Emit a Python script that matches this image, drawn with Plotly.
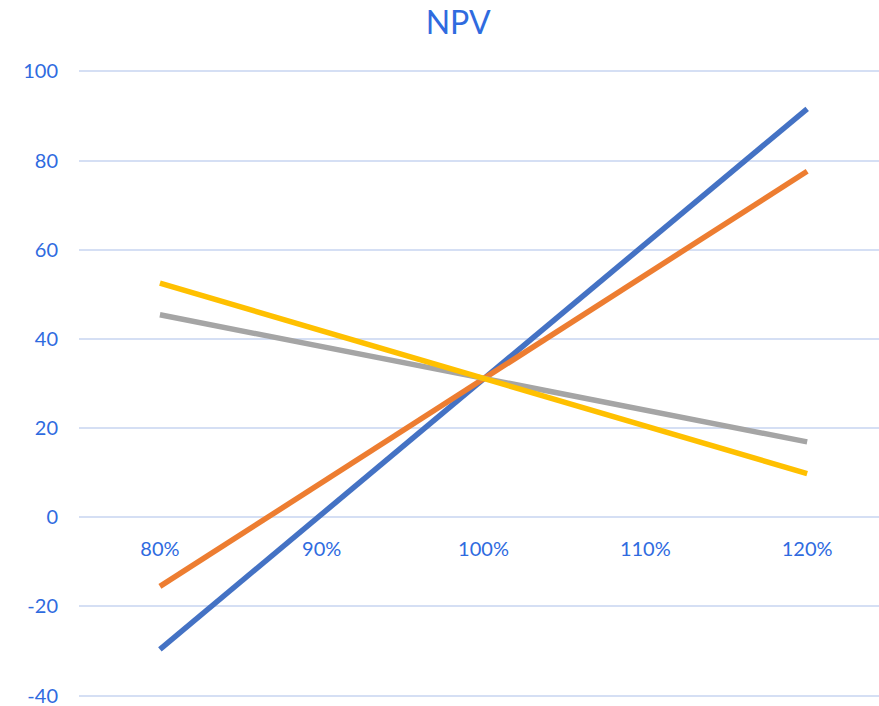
import plotly.graph_objects as go

# Sensitivity of NPV to each input, varied from 80% to 120% of base
categories = ["80%", "90%", "100%", "110%", "120%"]
series_1 = [-29.6, 0.7, 31.0, 61.3, 91.6]
series_2 = [-15.5, 7.8, 31.0, 54.3, 77.6]
series_3 = [45.4, 38.3, 31.1, 24.0, 16.9]
series_4 = [52.5, 41.8, 31.1, 20.5, 9.8]

y_ticks = [-40, -20, 0, 20, 40, 60, 80, 100]
y_tick_labels = ["-40", "-20", "0", "20", "40", "60", "80", "100"]

names = ["Series 1", "Series 2", "Series 3", "Series 4"]
colors = ["#4472C4", "#ED7D31", "#A5A5A5", "#FFC000"]
values = [series_1, series_2, series_3, series_4]

TEXT_BLUE = "#2F6BDF"
GRID = "#D5DFF4"
FONT = "Lato, 'Open Sans', sans-serif"

x_idx = list(range(len(categories)))

fig = go.Figure()
for name, color, ys in zip(names, colors, values):
    fig.add_trace(go.Scatter(
        x=x_idx, y=ys, name=name, mode="lines",
        line=dict(color=color, width=5.5),
        showlegend=False,
    ))

# small padding so the outer gridlines (-40 and 100) are drawn
y_min, y_max = -40.3, 100.3

fig.update_layout(
    width=879, height=706,
    margin=dict(l=79, r=0, t=70, b=9),
    paper_bgcolor="white",
    plot_bgcolor="white",
    font=dict(family=FONT, color=TEXT_BLUE, size=20),
    title=dict(
        text="NPV", x=0.474, xref="paper", xanchor="center",
        y=0.968, yref="container", yanchor="middle",
        font=dict(size=32, color=TEXT_BLUE, family=FONT),
    ),
    xaxis=dict(
        tickmode="array", tickvals=x_idx, ticktext=categories,
        range=[-0.5, 4.444],
        showgrid=False, zeroline=False, showline=False, ticks="",
        anchor="free", position=(0 - y_min) / (y_max - y_min),
        ticklabelstandoff=18,
        tickfont=dict(size=20, color=TEXT_BLUE),
    ),
    yaxis=dict(
        range=[y_min, y_max],
        tickmode="array", tickvals=y_ticks, ticktext=y_tick_labels,
        showgrid=True, gridcolor=GRID, gridwidth=1.6,
        zeroline=False, showline=False, ticks="",
        ticklabelstandoff=20,
        ticklabeloverflow="allow",
        automargin=False,
        tickfont=dict(size=20, color=TEXT_BLUE),
    ),
)

fig.write_html("out.html")
